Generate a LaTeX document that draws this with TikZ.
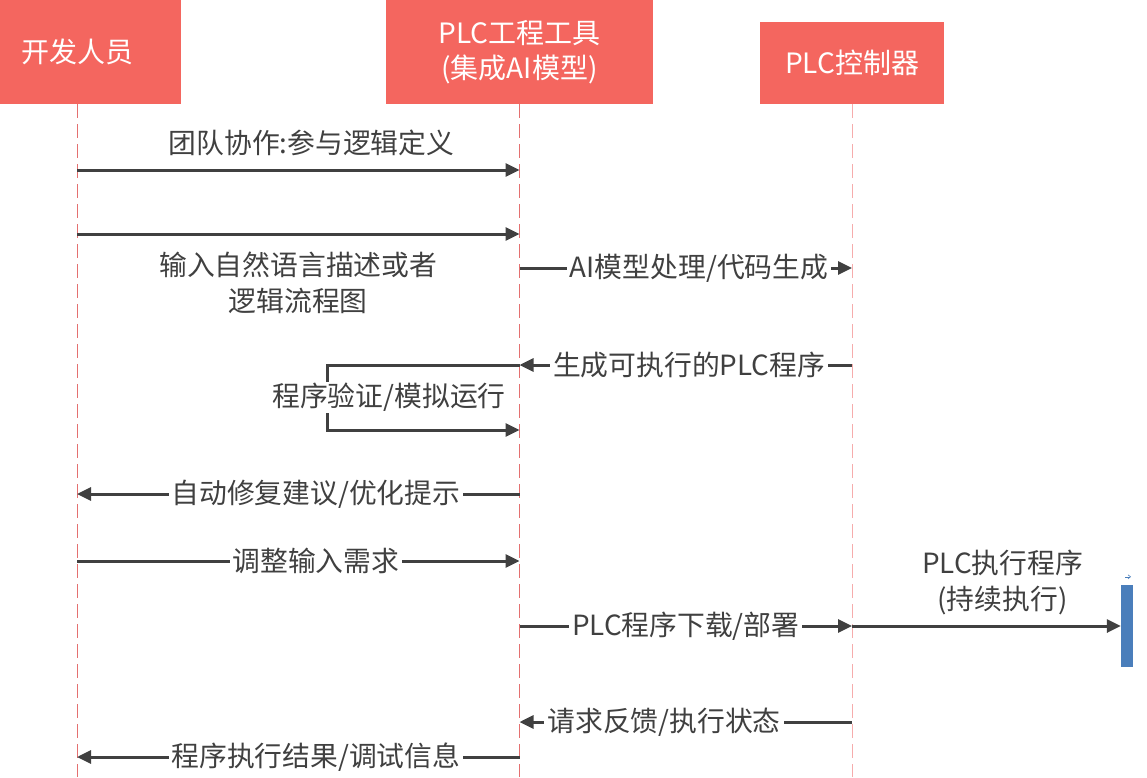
\documentclass[tikz,border=0pt]{standalone}
\usepackage{fontspec}
\setmainfont{Noto Sans CJK SC}
\usetikzlibrary{arrows.meta}

\definecolor{hdrred}{RGB}{244,102,95}
\definecolor{msggray}{RGB}{64,64,64}
\definecolor{lifered}{RGB}{228,112,112}
\definecolor{lifepink}{RGB}{246,172,172}
\definecolor{barblue}{RGB}{74,126,187}

\tikzset{
	hdr/.style={fill=hdrred, text=white, align=center, inner sep=0pt, font=\fontsize{28}{35}\selectfont},
	life/.style={lifered, line width=1pt, dash pattern=on 14pt off 6pt},
	msg/.style={msggray, line width=3pt, -{Triangle[length=14pt,width=13pt]}},
	lbl/.style={fill=white, text=msggray, inner xsep=3pt, inner ysep=1pt, font=\fontsize{27.8}{36}\selectfont},
}

\begin{document}
\begin{tikzpicture}[x=1pt, y=-1pt]
	\useasboundingbox (0,0) rectangle (1147,777);
	% lifeline heads
	\node[hdr, minimum width=208pt, minimum height=104pt] (dev) at (77,52) {开发人员};
	\node[hdr, minimum width=267pt, minimum height=104pt] (tool) at (519.5,52) {PLC工程工具\\(集成AI模型)};
	\node[hdr, minimum width=184pt, minimum height=82pt] (plc) at (852,63) {PLC控制器};
	\draw[life] (dev.south) -- (dev.south |- 0,777);
	\draw[life] (tool.south) -- (tool.south |- 0,777);
	\draw[life, lifepink] (plc.south) -- (plc.south |- 0,777);
	% points on the lifelines
	\foreach \y in {170,234,268,365,430,494,561,626,722,757} {
		\coordinate (d\y) at (dev.south |- 0,\y);
		\coordinate (t\y) at (tool.south |- 0,\y);
		\coordinate (p\y) at (plc.south |- 0,\y);
	}
	\coordinate (loopa) at (327,365);
	\coordinate (loopb) at (327,430);
	\node[fill=barblue, minimum width=12pt, minimum height=82pt, inner sep=0pt] (bar) at (1127,626) {};
	% messages
	\draw[msg] (d170) -- node[lbl, fill=none, above=12pt, pos=0.53] {团队协作:参与逻辑定义} (t170);
	\draw[msg] (d234) -- node[lbl, fill=none, below=15pt, align=center, pos=0.5] {输入自然语言描述或者\\逻辑流程图} (t234);
	\draw[msg] (t268) -- node[lbl, pos=0.54] {AI模型处理/代码生成} (p268);
	\draw[msg] (p365) -- node[lbl, pos=0.49] {生成可执行的PLC程序} (t365);
	\draw[msg] (t365) -- (loopa) -- node[lbl, xshift=62pt] {程序验证/模拟运行} (loopb) -- (t430);
	\draw[msg] (t494) -- node[lbl, pos=0.46] {自动修复建议/优化提示} (d494);
	\draw[msg] (d561) -- node[lbl, pos=0.54] {调整输入需求} (t561);
	\draw[msg] (t626) -- node[lbl, pos=0.5] {PLC程序下载/部署} (p626);
	\draw[msg] (p626) -- node[lbl, fill=none, above=9pt, align=center, pos=0.56] {PLC执行程序\\(持续执行)} (bar.west);
	\draw[barblue, line width=0.6pt, -{Straight Barb[length=2.5pt,width=4pt]}] ([yshift=8pt, xshift=-2pt]bar.north) -- ([yshift=8pt, xshift=4pt]bar.north);
	\draw[msg] (p722) -- node[lbl, pos=0.565] {请求反馈/执行状态} (t722);
	\draw[msg] (t757) -- node[lbl, pos=0.46] {程序执行结果/调试信息} (d757);
\end{tikzpicture}
\end{document}
